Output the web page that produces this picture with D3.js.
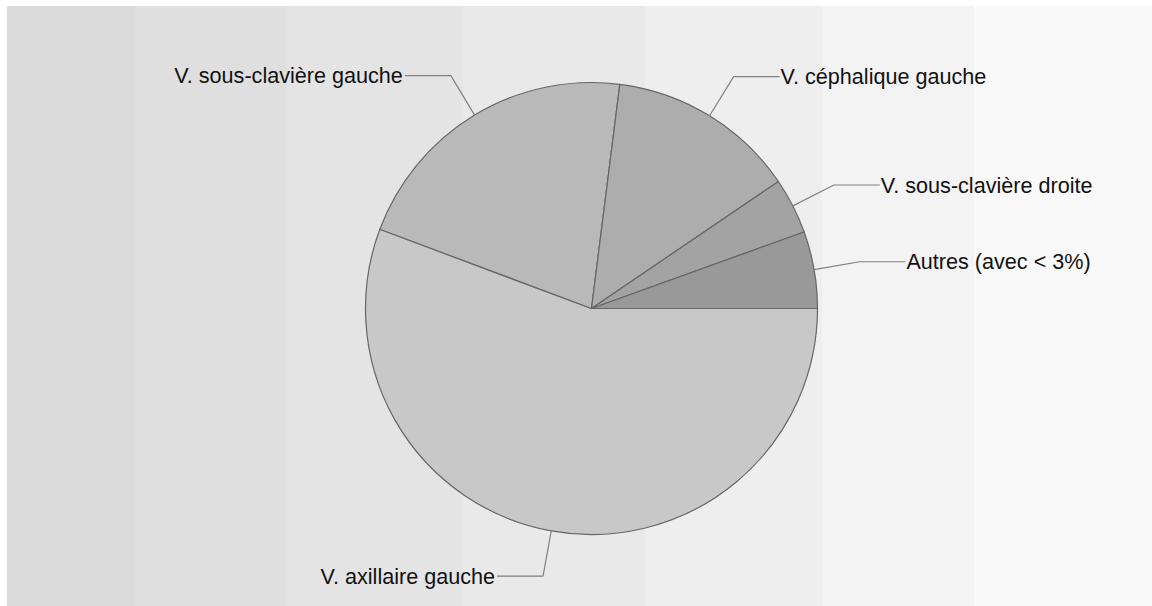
<!DOCTYPE html>
<html><head><meta charset="utf-8">
<script src="https://cdn.jsdelivr.net/npm/d3@7"></script>
<style>html,body{margin:0;padding:0;background:#fff;}svg{display:block;}</style>
</head><body>
<script>
// ---- data ----
const categories = ["V. axillaire gauche","V. sous-clavière gauche","V. céphalique gauche","V. sous-clavière droite","Autres (avec < 3%)"];
const values = [55.7, 21.3, 13.5, 4.0, 5.5];
const sliceColors = ["#c8c8c8","#b9b9b9","#adadad","#a3a3a3","#999999"];
// background bands (layout)
const bandEdges = [7, 135, 287, 463, 645, 822, 974, 1152];
const bandColors = ["#dadada","#dfdfdf","#e4e4e4","#e9e9e9","#eeeeee","#f3f3f3","#f9f9f9"];

const W = 1152, H = 606;
const cx = 591.5, cy = 308.5, R = 226;
const svg = d3.select("body").append("svg").attr("width", W).attr("height", H);

svg.selectAll("rect.band").data(bandColors).enter().append("rect")
  .attr("x", (d,i)=>bandEdges[i]).attr("y", 6)
  .attr("width", (d,i)=>bandEdges[i+1]-bandEdges[i]).attr("height", H-6)
  .attr("fill", d=>d);

const data = categories.map((c,i)=>({label:c, value:values[i], color:sliceColors[i]}));
const pie = d3.pie().sort(null).value(d=>d.value)
  .startAngle(Math.PI/2).endAngle(Math.PI/2 + 2*Math.PI);
const arcs = pie(data);
const arc = d3.arc().innerRadius(0).outerRadius(R);

const g = svg.append("g").attr("transform", `translate(${cx},${cy})`);
g.selectAll("path.slice").data(arcs).enter().append("path")
  .attr("d", arc).attr("fill", d=>d.data.color)
  .attr("stroke", "#666666").attr("stroke-width", 1.2).attr("stroke-linejoin","round");

const elbowR = R + 46, hLen = 46, fs = 21.6;
arcs.forEach(a=>{
  const m = (a.startAngle + a.endAngle)/2;
  const sx = R*Math.sin(m), sy = -R*Math.cos(m);
  const ex = elbowR*Math.sin(m), ey = -elbowR*Math.cos(m);
  const right = ex >= 0;
  const hx = ex + (right ? hLen : -hLen);
  g.append("path")
    .attr("d", `M${sx},${sy}L${ex},${ey}L${hx},${ey}`)
    .attr("fill","none").attr("stroke","#808080").attr("stroke-width",1.2);
  g.append("text")
    .attr("x", hx + (right ? 1 : -2)).attr("y", ey + fs*0.35)
    .attr("text-anchor", right ? "start" : "end")
    .attr("font-family", "'Liberation Sans', Arial, sans-serif")
    .attr("font-size", fs).attr("fill", "#111111")
    .text(a.data.label);
});
</script>
</body></html>
